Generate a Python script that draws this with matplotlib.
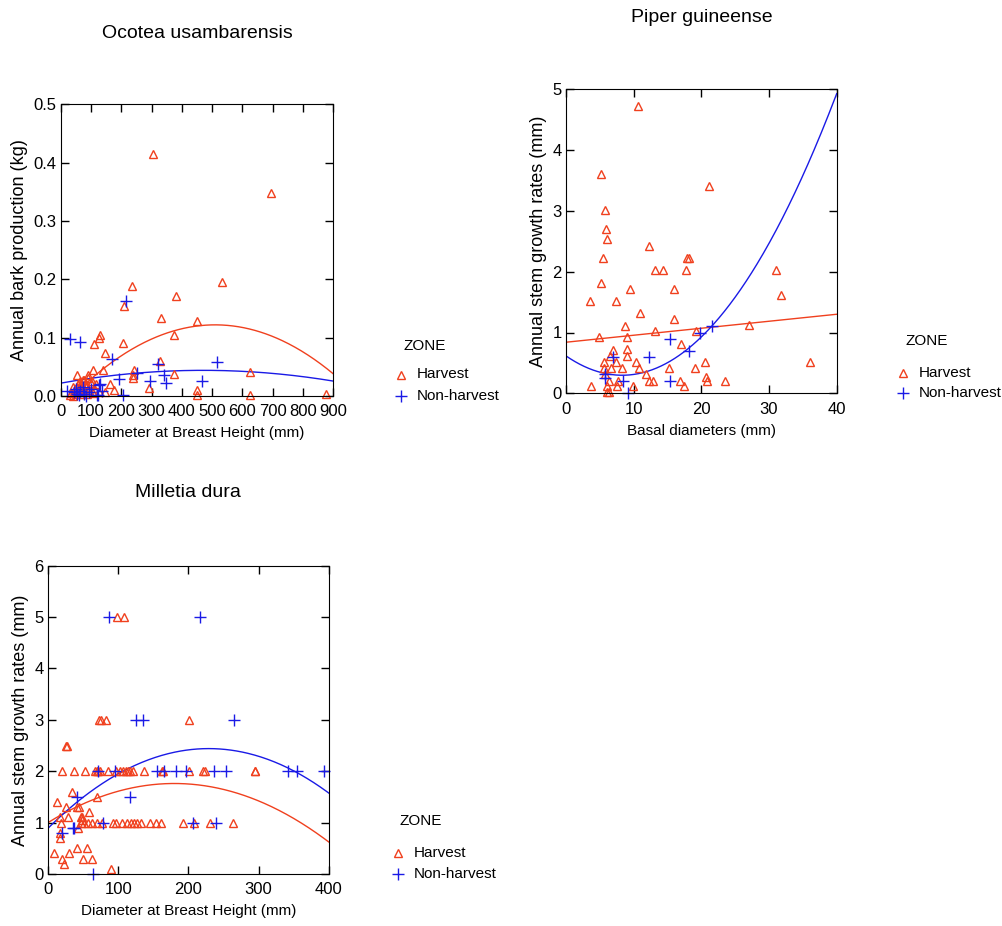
import matplotlib
matplotlib.use("Agg")
import matplotlib.pyplot as plt
import numpy as np
from matplotlib.lines import Line2D

plt.rcParams['font.family'] = ['Liberation Sans', 'DejaVu Sans']

RED = '#f0401e'
BLUE = '#1a1ae6'

# Ocotea usambarensis: DBH (mm) vs annual bark production (kg)
oco_h_x = [304, 694, 234, 534, 381, 210, 331, 451, 374, 130, 125, 110, 207, 146,
           328, 141, 107, 242, 240, 240, 374, 625, 290, 451, 451, 625, 876, 162,
           126, 146, 176, 91, 55, 77, 104, 66, 41,
           30, 35, 40, 45, 48, 50, 55, 58, 60, 62, 65, 68, 70, 72, 75, 78, 80,
           85, 88, 90, 95, 100, 105, 110, 115]
oco_h_y = [0.414, 0.348, 0.189, 0.196, 0.172, 0.155, 0.133, 0.128, 0.105, 0.105,
           0.100, 0.089, 0.091, 0.073, 0.060, 0.045, 0.044, 0.045, 0.036, 0.031,
           0.037, 0.041, 0.014, 0.010, 0.001, 0.001, 0.003, 0.021, 0.006, 0.007,
           0.011, 0.036, 0.036, 0.027, 0.025, 0.023, 0.016,
           0.002, 0.005, 0.000, 0.008, 0.012, 0.003, 0.015, 0.020, 0.006, 0.010,
           0.025, 0.018, 0.003, 0.012, 0.028, 0.008, 0.020, 0.015, 0.004, 0.030,
           0.010, 0.022, 0.005, 0.013, 0.020]
oco_n_x = [31, 64, 216, 168, 194, 205, 251, 295, 322, 342, 349, 467, 515, 130,
           123, 127, 20, 45, 50, 55, 60, 65, 72, 78, 85, 95, 100, 120, 135]
oco_n_y = [0.098, 0.092, 0.163, 0.063, 0.029, 0.002, 0.040, 0.025, 0.055, 0.036,
           0.022, 0.026, 0.058, 0.021, 0.002, 0.019, 0.008, 0.006, 0.012, 0.003,
           0.001, 0.009, 0.015, 0.004, 0.000, 0.007, 0.012, 0.001, 0.008]
# quadratic fit coefficients (c0, c1, c2)
oco_h_fit = [-0.0216, 5.63e-4, -5.52e-7]
oco_n_fit = [0.0220, 9.36e-5, -9.96e-8]

# Piper guineense: basal diameter (mm) vs annual stem growth (mm)
pip_h_x = [10.6, 5.2, 21.2, 5.7, 5.9, 6.0, 5.4, 12.3, 17.9, 18.2, 13.2, 14.4, 17.8,
           31.1, 5.1, 9.4, 15.9, 3.5, 7.4, 31.8, 11.0, 15.9, 8.7, 27.0, 13.1, 19.2,
           4.9, 9.0, 17.0, 7.0, 6.5, 9.0, 9.0, 7.4, 5.6, 10.4, 5.6, 6.6, 8.3, 10.8,
           15.2, 19.0, 20.6, 36.1, 11.8, 5.7, 12.2, 12.8, 20.7, 20.8, 23.5, 6.3,
           7.7, 16.9, 3.7, 6.0, 7.6, 9.9, 17.4, 6.0, 6.3]
pip_h_y = [4.72, 3.61, 3.41, 3.01, 2.71, 2.53, 2.23, 2.43, 2.23, 2.23, 2.02, 2.02,
           2.02, 2.02, 1.82, 1.71, 1.71, 1.52, 1.52, 1.62, 1.32, 1.22, 1.11, 1.12,
           1.02, 1.02, 0.92, 0.92, 0.81, 0.71, 0.62, 0.73, 0.62, 0.52, 0.52, 0.52,
           0.41, 0.41, 0.41, 0.41, 0.41, 0.41, 0.51, 0.51, 0.32, 0.31, 0.21, 0.21,
           0.26, 0.21, 0.21, 0.21, 0.21, 0.21, 0.12, 0.12, 0.12, 0.12, 0.12, 0.02,
           0.02]
pip_n_x = [7.0, 12.3, 15.3, 18.2, 19.8, 21.5, 5.7, 5.8, 8.4, 15.3, 9.2]
pip_n_y = [0.60, 0.60, 0.90, 0.70, 1.00, 1.10, 0.32, 0.25, 0.20, 0.20, 0.00]
pip_h_fit = [0.84, 0.0115, 0.0]
pip_n_fit = [0.615, -0.0766, 0.004611]

# Milletia dura: DBH (mm) vs annual stem growth (mm)
mil_h_x = [98, 109, 72, 76, 83, 201, 25.7, 27.6,
           20.5, 36.7, 52.4, 67.6, 69.5, 71.9, 74.3, 85.7, 97.6, 102.9, 106.7,
           110.5, 114.3, 117.1, 121.4, 136.7, 162.9, 163.8, 201.4, 220.5, 224.3,
           294.3, 295.2,
           34, 70, 13.3, 25, 42, 44, 58.6, 17, 29, 47, 49, 48,
           19, 47.6, 52, 57, 63, 70, 77.6, 92, 96.7, 106, 113, 118, 122, 127, 133,
           146, 154, 161, 193, 208.6, 230.5, 263,
           43, 17, 17.5, 41, 55, 9, 30, 19.5, 49.5, 62, 23, 90]
mil_h_y = [5, 5, 3, 3, 3, 3, 2.5, 2.5,
           2, 2, 2, 2, 2, 2, 2, 2, 2, 2, 2, 2, 2, 2, 2, 2, 2, 2, 2, 2, 2, 2, 2,
           1.6, 1.5, 1.4, 1.3, 1.3, 1.3, 1.2, 1.1, 1.1, 1.1, 1.1, 1.05,
           1, 1, 1, 1, 1, 1, 1, 1, 1, 1, 1, 1, 1, 1, 1, 1, 1, 1, 1, 1, 1, 1,
           0.9, 0.8, 0.7, 0.5, 0.5, 0.4, 0.4, 0.3, 0.3, 0.3, 0.2, 0.1]
mil_n_x = [87, 216, 126, 135, 265, 71, 96, 155, 166, 183, 196, 236, 253, 342, 355,
           394, 42, 117, 79, 207, 239, 36, 37.6, 20, 64]
mil_n_y = [5, 5, 3, 3, 3, 2, 2, 2, 2, 2, 2, 2, 2, 2, 2, 2, 1.5, 1.5, 1, 1, 1,
           0.9, 0.9, 0.8, 0]
mil_h_fit = [1.0, 8.46e-3, -2.35e-5]
mil_n_fit = [0.89, 1.354e-2, -2.956e-5]

zone_labels = ['Harvest', 'Non-harvest']

fig = plt.figure(figsize=(10.02, 9.26), dpi=100)
W, H = 1002, 926


def make_axes(l, r, t, b):
    return fig.add_axes([l / W, 1 - b / H, (r - l) / W, (b - t) / H])


def panel(ax, hx, hy, nx, ny, hfit, nfit, xmax, ymax, xticks, yticks, title,
          title_gap, xlabel, ylabel, yfmt):
    xs = np.linspace(0, xmax, 300)
    ax.plot(xs, hfit[0] + hfit[1] * xs + hfit[2] * xs ** 2, color=RED, lw=1.0)
    ax.plot(xs, nfit[0] + nfit[1] * xs + nfit[2] * xs ** 2, color=BLUE, lw=1.0)
    ax.plot(hx, hy, ls='none', marker='^', mfc='none', mec=RED, ms=6,
            mew=1.0, clip_on=False)
    ax.plot(nx, ny, ls='none', marker='+', color=BLUE, ms=8.5, mew=1.0,
            clip_on=False)
    ax.set_xlim(0, xmax)
    ax.set_ylim(0, ymax)
    ax.set_xticks(xticks)
    ax.set_yticks(yticks)
    ax.set_yticklabels([yfmt.format(v) for v in yticks])
    ax.tick_params(direction='in', top=True, right=True, length=6, width=1,
                   labelsize=12)
    ax.tick_params(axis='x', pad=6)
    ax.tick_params(axis='y', pad=3)
    ax.set_xlabel(xlabel, fontsize=11, labelpad=5)
    ax.set_ylabel(ylabel, fontsize=13, labelpad=4)
    h_px = ax.get_position().height * H
    ax.text(0.5, 1 + title_gap / h_px, title, transform=ax.transAxes,
            ha='center', va='center', fontsize=14)


def zone_key(x, y_title, y_first, step):
    # x: left of "ZONE" in px; marker centre sits 2 px left of it
    fig.text(x / W, 1 - y_title / H, 'ZONE', fontsize=11, va='center')
    styles = [dict(marker='^', mfc='none', mec=RED, ms=6, mew=1.0),
              dict(marker='+', color=BLUE, ms=8.5, mew=1.0)]
    for i, (lab, st) in enumerate(zip(zone_labels, styles)):
        yy = 1 - (y_first + i * step) / H
        fig.add_artist(Line2D([(x - 2) / W], [yy], ls='none',
                              transform=fig.transFigure, **st))
        fig.text((x + 14) / W, yy, lab, fontsize=11, va='center')


ax1 = make_axes(60.7, 333.3, 104.3, 396)
panel(ax1, oco_h_x, oco_h_y, oco_n_x, oco_n_y, oco_h_fit, oco_n_fit, 900, 0.5,
      range(0, 901, 100), [0, 0.1, 0.2, 0.3, 0.4, 0.5], 'Ocotea usambarensis',
      71, 'Diameter at Breast Height (mm)', 'Annual bark production (kg)',
      '{:.1f}')
zone_key(403, 346, 374.5, 21.7)

ax2 = make_axes(566, 836.7, 89.3, 393.3)
panel(ax2, pip_h_x, pip_h_y, pip_n_x, pip_n_y, pip_h_fit, pip_n_fit, 40, 5,
      [0, 10, 20, 30, 40], [0, 1, 2, 3, 4, 5], 'Piper guineense', 72,
      'Basal diameters (mm)', 'Annual stem growth rates (mm)', '{:g}')
zone_key(905, 341, 372.5, 20.5)

ax3 = make_axes(48, 328.7, 565.7, 874)
panel(ax3, mil_h_x, mil_h_y, mil_n_x, mil_n_y, mil_h_fit, mil_n_fit, 400, 6,
      [0, 100, 200, 300, 400], [0, 1, 2, 3, 4, 5, 6], 'Milletia dura', 73,
      'Diameter at Breast Height (mm)', 'Annual stem growth rates (mm)', '{:g}')
zone_key(400, 821, 853, 21)

fig.savefig('out.png', dpi=100)
